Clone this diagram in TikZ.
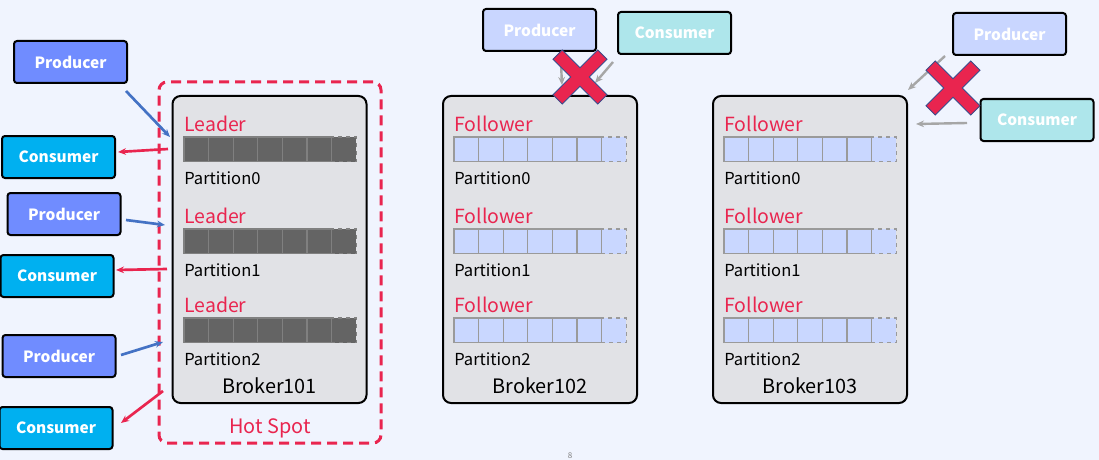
\documentclass[tikz,border=0pt]{standalone}
\usepackage{fontspec}
\setmainfont{Noto Sans CJK SC}
\usepackage{tikz}
\usetikzlibrary{arrows.meta}

\definecolor{bgblue}{RGB}{240,244,254}
\definecolor{prodblue}{RGB}{112,140,255}
\definecolor{consblue}{RGB}{0,176,240}
\definecolor{prodlight}{RGB}{201,214,255}
\definecolor{conslight}{RGB}{174,230,235}
\definecolor{brokergray}{RGB}{225,226,230}
\definecolor{hotred}{RGB}{233,37,79}
\definecolor{bardark}{RGB}{100,100,100}
\definecolor{cellline}{RGB}{128,128,128}
\definecolor{barlight}{RGB}{201,215,255}
\definecolor{celllight}{RGB}{154,154,154}
\definecolor{arrowblue}{RGB}{68,114,196}
\definecolor{arrowgray}{RGB}{166,166,166}
\definecolor{xline}{RGB}{59,74,138}

\tikzset{
	box/.style = {draw=black, line width=1.5pt, rounded corners=2.25pt, minimum width=84.75pt, minimum height=31.5pt, inner sep=0pt, text=white, font=\bfseries\fontsize{11.6}{14}\selectfont},
	prod/.style = {box, fill=prodblue},
	cons/.style = {box, fill=consblue},
	prodoff/.style = {box, fill=prodlight},
	consoff/.style = {box, fill=conslight},
	broker/.style = {draw=black, line width=1.5pt, rounded corners=6pt, fill=brokergray, minimum width=145.5pt, minimum height=230.25pt, inner sep=0pt},
	hotspot/.style = {draw=hotred, line width=2.25pt, dash pattern=on 7.5pt off 4.5pt, rounded corners=6pt, minimum width=166.5pt, minimum height=270.75pt, inner sep=0pt},
	role/.style = {anchor=base west, inner sep=0pt, text=hotred, font=\fontsize{14.6}{17}\selectfont},
	part/.style = {anchor=base west, inner sep=0pt, font=\fontsize{12.4}{15}\selectfont},
	bname/.style = {anchor=base, inner sep=0pt, font=\fontsize{14.9}{17}\selectfont},
	toblue/.style = {draw=arrowblue, line width=2pt, -{Stealth[length=6pt, width=5pt]}},
	tored/.style = {draw=hotred, line width=2pt, -{Stealth[length=6pt, width=5pt]}},
	togray/.style = {draw=arrowgray, line width=1.8pt, -{Stealth[length=6pt, width=5pt]}},
	xmark/.style = {fill=hotred, draw=xline, line width=0.6pt}
}

\begin{document}
\begin{tikzpicture}[x=0.75pt, y=-0.75pt]
	\fill[bgblue] (0,0) rectangle (1099,460);
	\useasboundingbox (0,0) rectangle (1099,460);

	% brokers
	\node [hotspot] (hot) at (270,262.5) {};
	\node [broker] (b101) at (269.5,249.5) {};
	\node [broker] (b102) at (540,249.5) {};
	\node [broker] (b103) at (810,249.5) {};

	% partitions
	\foreach \b/\xl/\role/\fc/\lc in {b101/184/Leader/bardark/cellline, b102/454/Follower/barlight/celllight, b103/724/Follower/barlight/celllight} {
		\foreach \r/\yt in {0/137, 1/229, 2/318} {
			\foreach \i in {0,...,5}
				\draw [line width=1pt, draw=\lc, fill=\fc] (\xl+\i*24.6, \yt) rectangle ++(24.6, 24.5);
			\draw [line width=1pt, dashed, draw=\lc, fill=\fc] (\xl+6*24.6, \yt) rectangle ++(24.6, 24.5);
			\node [role] (\b-role-\r) at (\xl, \yt-6) {\role};
			\node [part] (\b-part-\r) at (\xl, \yt+47) {Partition\r};
		}
	}
	\node [bname] (n101) at (269.5,393) {Broker101};
	\node [bname] (n102) at (540,393) {Broker102};
	\node [bname] (n103) at (810,393) {Broker103};
	\node [bname, text=hotred] (hotname) at (270,433) {Hot Spot};

	% clients
	\node [prod] (pA) at (70.5,62) {Producer};
	\node [cons] (cA) at (58.5,157) {Consumer};
	\node [prod] (pB) at (64,214) {Producer};
	\node [cons] (cB) at (57,276) {Consumer};
	\node [prod] (pC) at (59,356) {Producer};
	\node [cons] (cC) at (56,428) {Consumer};
	\node [prodoff] (pD) at (539.5,30) {Producer};
	\node [consoff] (cD) at (674.5,33) {Consumer};
	\node [prodoff] (pE) at (1009.5,34) {Producer};
	\node [consoff] (cE) at (1037,120) {Consumer};

	\coordinate (pAs) at (126,91);  \coordinate (pAe) at (170,137);
	\coordinate (cAs) at (168,149); \coordinate (cAe) at (118,152);
	\coordinate (pBs) at (126,220); \coordinate (pBe) at (165,225);
	\coordinate (cBs) at (167,269); \coordinate (cBe) at (116,270);
	\coordinate (pCs) at (121,355); \coordinate (pCe) at (163,342);
	\coordinate (cCs) at (163,391); \coordinate (cCe) at (121,423);
	\coordinate (pDs) at (561,63);  \coordinate (pDe) at (562,85);
	\coordinate (cDs) at (613,62);  \coordinate (cDe) at (595,83);
	\coordinate (pEs) at (945,56);  \coordinate (pEe) at (908,90);
	\coordinate (cEs) at (967,123); \coordinate (cEe) at (916,124);

	\draw [toblue] (pAs) -- (pAe);
	\draw [tored] (cAs) -- (cAe);
	\draw [toblue] (pBs) -- (pBe);
	\draw [tored] (cBs) -- (cBe);
	\draw [toblue] (pCs) -- (pCe);
	\draw [tored] (cCs) -- (cCe);
	\draw [togray] (pDs) -- (pDe);
	\draw [togray] (cDs) -- (cDe);
	\draw [togray] (pEs) -- (pEe);
	\draw [togray] (cEs) -- (cEe);

	% blocked
	\foreach \cx/\cy in {580/77, 953/88}
		\filldraw [xmark, shift={(\cx,\cy)}] (-27,-17.8) -- (-17.8,-27) -- (0,-9.2) -- (17.8,-27) -- (27,-17.8) -- (9.2,0) -- (27,17.8) -- (17.8,27) -- (0,9.2) -- (-17.8,27) -- (-27,17.8) -- (-9.2,0) -- cycle;

	\node [text=gray, font=\fontsize{6}{7}\selectfont] (page) at (570,456) {8};
\end{tikzpicture}
\end{document}
